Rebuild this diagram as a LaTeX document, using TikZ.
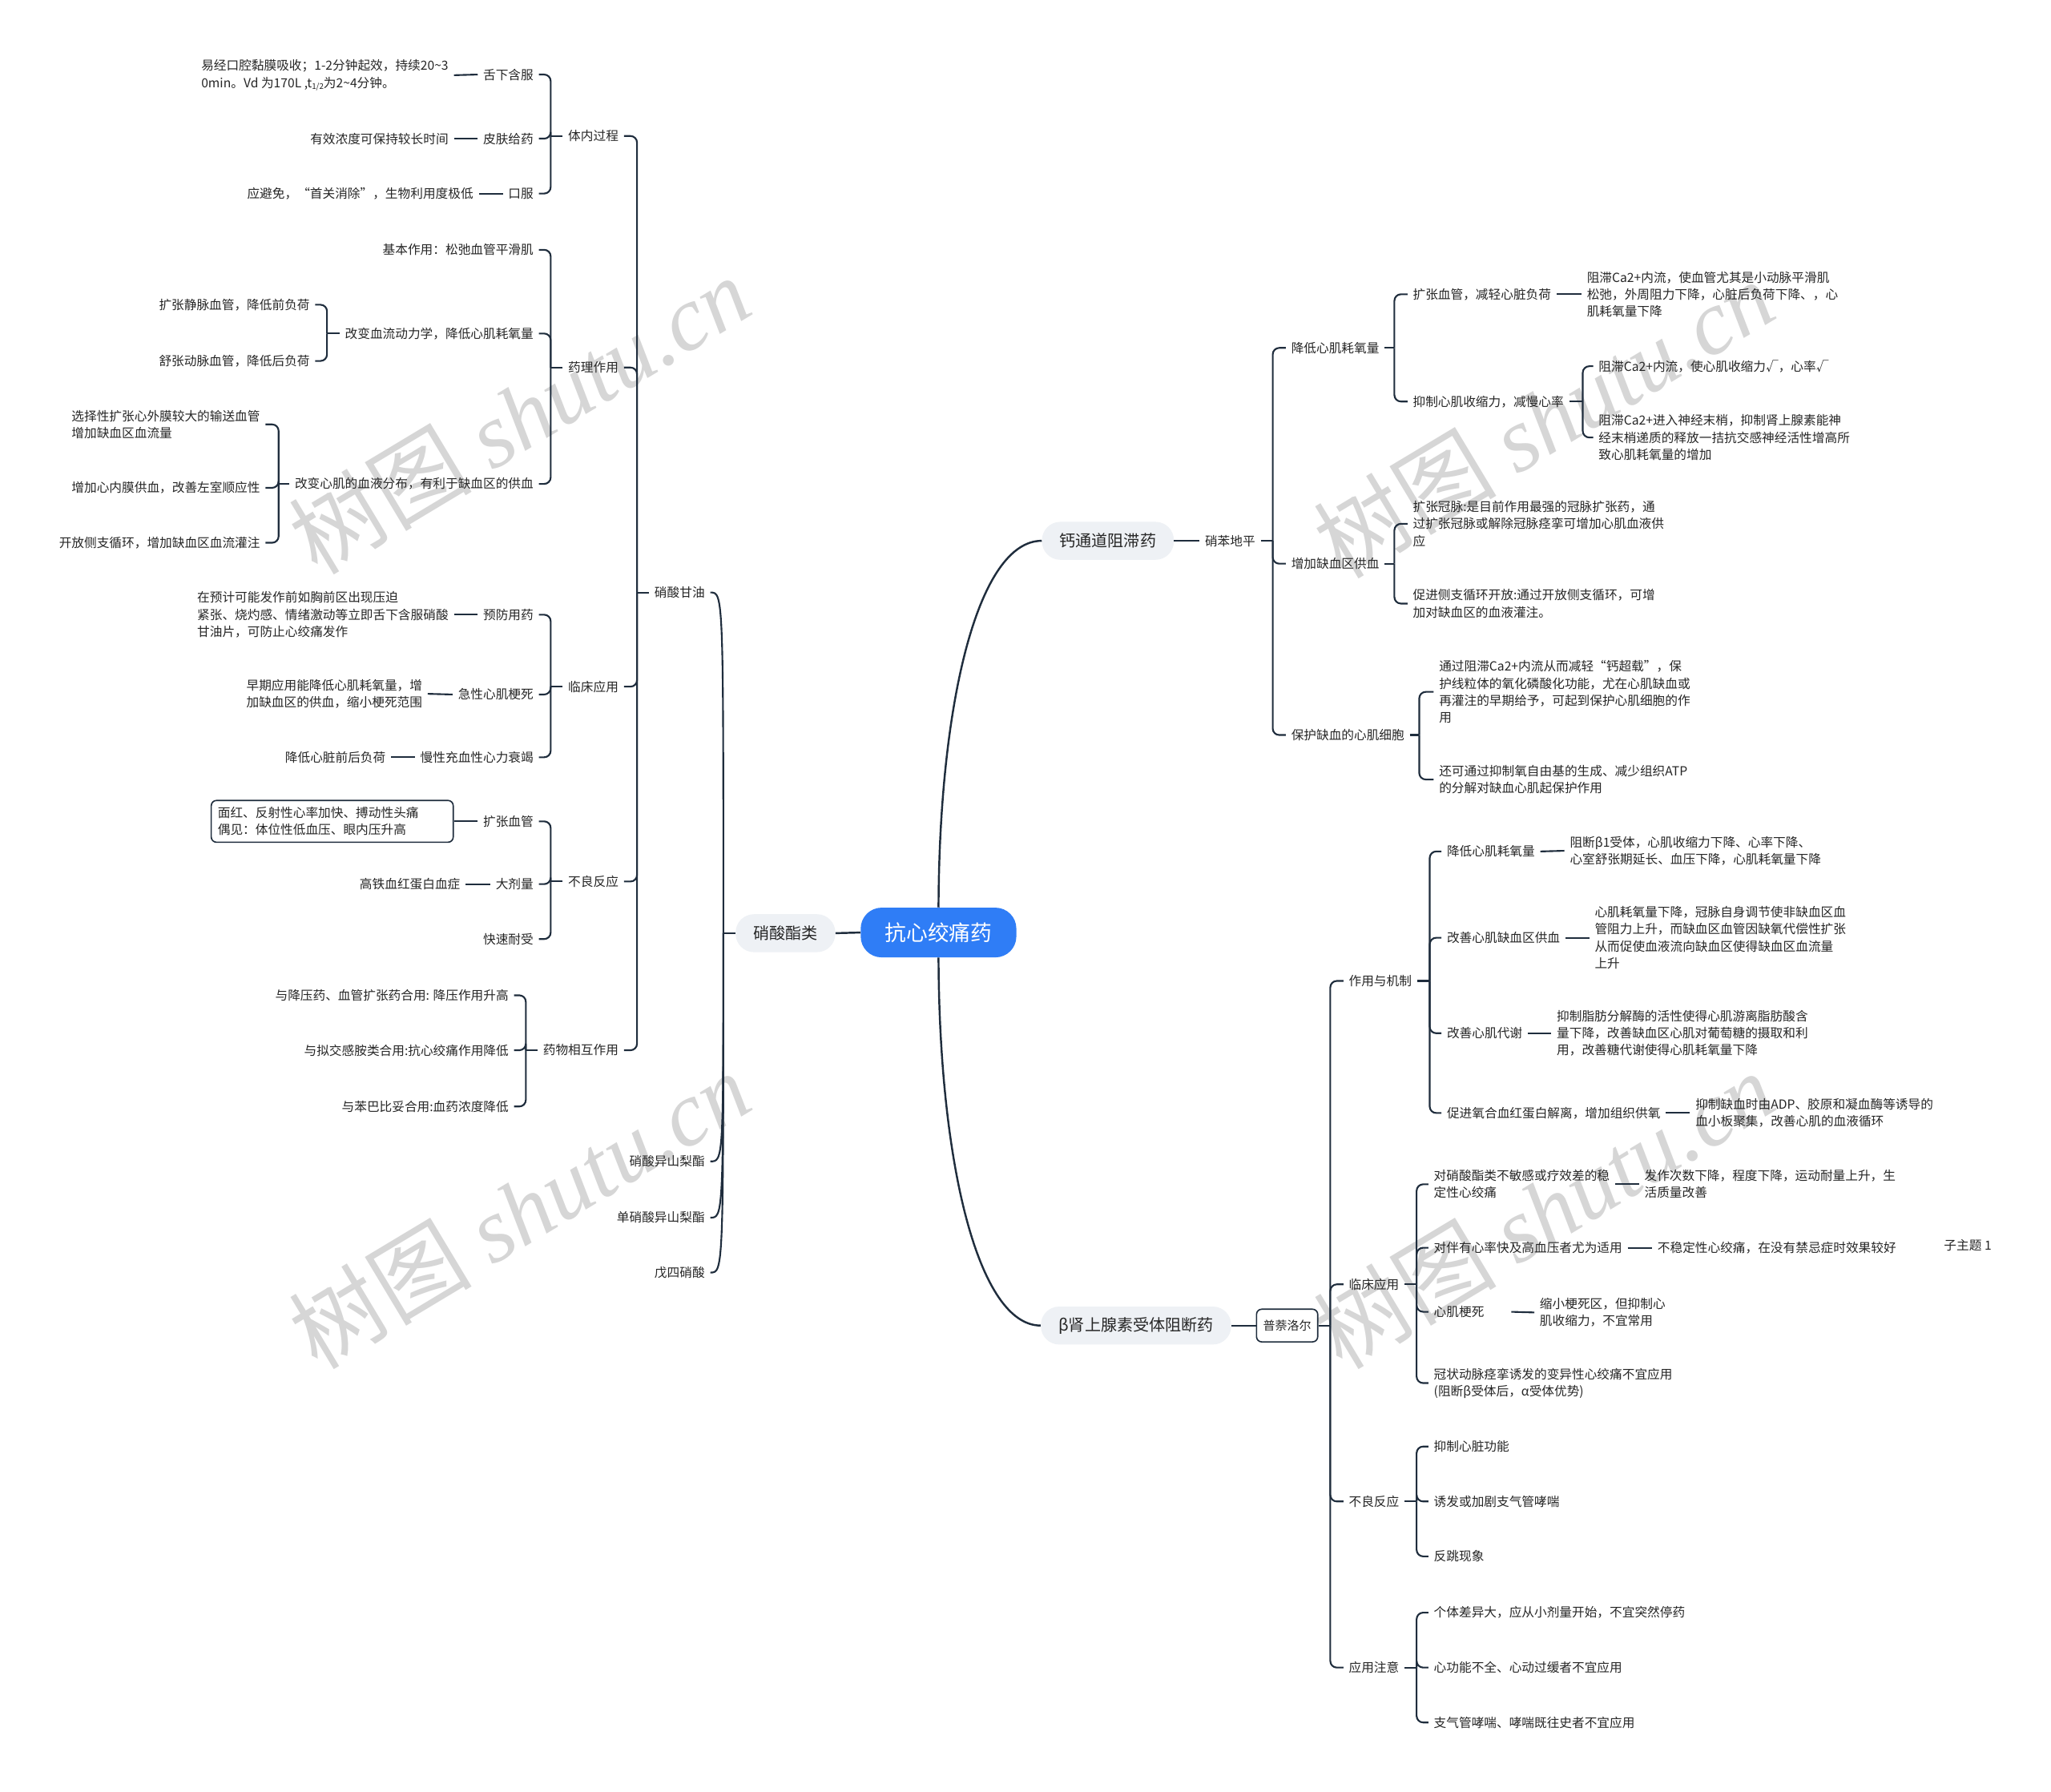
\documentclass[tikz,border=0pt]{standalone}
\usepackage{fontspec}
\setmainfont{Noto Sans CJK SC}
\newfontfamily\wmserif{Liberation Serif}
\definecolor{linec}{HTML}{1F2D3D}
\definecolor{txtc}{HTML}{262626}
\definecolor{rootc}{HTML}{2F7DF6}
\definecolor{lonec}{HTML}{EEF1F5}
\definecolor{wmc}{HTML}{D6D6D6}
\newcommand{\half}{\raisebox{-0.25ex}{\fontsize{6}{6}\selectfont 1/2}}
\tikzset{
 txt/.style={font=\fontsize{9.6}{13}\selectfont, text=txtc, inner xsep=4pt, inner ysep=1pt, align=left},
 rt/.style={txt, anchor=west},
 lt/.style={txt, anchor=east},
 conn/.style={draw=linec, line width=1.3pt, rounded corners=5pt},
 mainc/.style={draw=linec, line width=1.5pt},
 rootn/.style={fill=rootc, text=white, rounded corners=16pt, minimum height=38pt, inner xsep=18.5pt, font=\fontsize{16.4}{18}\selectfont},
 lone/.style={fill=lonec, text=txtc, rounded corners=14pt, minimum height=29pt, inner xsep=13.5pt, font=\fontsize{12.3}{14}\selectfont},
 wm/.style={text=wmc, rotate=31, font=\fontsize{70}{70}\selectfont},
}
\begin{document}
\begin{tikzpicture}[x=1pt,y=-1pt]
\fill[white] (0,0) rectangle (1568,1370);
\useasboundingbox (0,0) rectangle (1568,1370);
% watermarks
\node[wm] (w1) at (397,317) {树图 {\wmserif\itshape shutu.cn}};
\node[wm] (w2) at (397,925) {树图 {\wmserif\itshape shutu.cn}};
\node[wm] (w3) at (1180,320) {树图 {\wmserif\itshape shutu.cn}};
\node[wm] (w4) at (1180,925) {树图 {\wmserif\itshape shutu.cn}};

% root and level 1
\node[rootn] (root) at (717.5,713) {抗心绞痛药};
\node[lone] (nitr) at (600.5,713.5) {硝酸酯类};
\node[lone] (ccb) at (847,413.5) {钙通道阻滞药};
\node[lone] (beta) at (868.5,1013.5) {β肾上腺素受体阻断药};
\draw[mainc] (root.west) -- (nitr.east);
\draw[mainc] (root.north) .. controls (718,536) and (748,413.5) .. (ccb.west);
\draw[mainc] (root.south) .. controls (718,890) and (748,1013.5) .. (beta.west);

% ===== 硝酸酯类 =====
\coordinate (kN) at (553,713.5);
\node[lt] (ngly) at (543,453) {硝酸甘油};
\node[lt] (iso) at (543,888) {硝酸异山梨酯};
\node[lt] (mono) at (543,931) {单硝酸异山梨酯};
\node[lt] (pent) at (543,973) {戊四硝酸};
\draw[conn] (nitr.west) -- (kN);
\draw[conn] (kN) .. controls (553,453) .. (ngly.east);
\draw[conn] (kN) .. controls (553,888) .. (iso.east);
\draw[conn] (kN) .. controls (553,931) .. (mono.east);
\draw[conn] (kN) .. controls (553,973) .. (pent.east);

% 硝酸甘油 children
\coordinate (kG) at (487,453);
\node[lt] (tinei) at (477,104) {体内过程};
\node[lt] (yaoli) at (477,281) {药理作用};
\node[lt] (linc) at (477,525) {临床应用};
\node[lt] (bul) at (477,674) {不良反应};
\node[lt] (xhu) at (477,803) {药物相互作用};
\draw[conn] (ngly.west) -- (kG);
\foreach \c in {tinei,yaoli,linc,bul,xhu} \draw[conn] (kG) |- (\c.east);

% 体内过程
\coordinate (kT) at (421,104);
\node[lt] (sxhf) at (412,57) {舌下含服};
\node[lt] (pfgy) at (412,106) {皮肤给药};
\node[lt] (kfu) at (412,148) {口服};
\draw[conn] (tinei.west) -- (kT);
\foreach \c in {sxhf,pfgy,kfu} \draw[conn] (kT) |- (\c.east);
\node[lt] (sxhfL) at (347,57.5) {易经口腔黏膜吸收；1-2分钟起效，持续20\textasciitilde3\\0min。Vd 为170L ,t\half 为2\textasciitilde4分钟。};
\node[lt] (pfgyL) at (347,106) {有效浓度可保持较长时间};
\node[lt] (kfuL) at (366,148) {应避免，“首关消除”，生物利用度极低};
\draw[conn] (sxhf.west) -- (sxhfL.east);
\draw[conn] (pfgy.west) -- (pfgyL.east);
\draw[conn] (kfu.west) -- (kfuL.east);

% 药理作用
\coordinate (kY) at (421,281);
\node[lt] (jbzy) at (412,191) {基本作用：松弛血管平滑肌};
\node[lt] (xlz) at (412,255) {改变血流动力学，降低心肌耗氧量};
\node[lt] (fbu) at (412,370) {改变心肌的血液分布，有利于缺血区的供血};
\draw[conn] (yaoli.west) -- (kY);
\foreach \c in {jbzy,xlz,fbu} \draw[conn] (kY) |- (\c.east);
\coordinate (kX) at (250,255);
\node[lt] (jmx) at (241,233) {扩张静脉血管，降低前负荷};
\node[lt] (dmx) at (241,276) {舒张动脉血管，降低后负荷};
\draw[conn] (xlz.west) -- (kX);
\foreach \c in {jmx,dmx} \draw[conn] (kX) |- (\c.east);
\coordinate (kF) at (213,370);
\node[lt] (xzx) at (203,324.5) {选择性扩张心外膜较大的输送血管\\增加缺血区血流量};
\node[lt] (nmx) at (203,373) {增加心内膜供血，改善左室顺应性};
\node[lt] (cfx) at (203,415) {开放侧支循环，增加缺血区血流灌注};
\draw[conn] (fbu.west) -- (kF);
\foreach \c in {xzx,nmx,cfx} \draw[conn] (kF) |- (\c.east);

% 临床应用
\coordinate (kL) at (421,525);
\node[lt] (yfy) at (412,470) {预防用药};
\node[lt] (jxg) at (412,531) {急性心肌梗死};
\node[lt] (mxs) at (412,579) {慢性充血性心力衰竭};
\draw[conn] (linc.west) -- (kL);
\foreach \c in {yfy,jxg,mxs} \draw[conn] (kL) |- (\c.east);
\node[lt] (yfyL) at (347,470) {在预计可能发作前如胸前区出现压迫\\紧张、烧灼感、情绪激动等立即舌下含服硝酸\\甘油片，可防止心绞痛发作};
\node[lt] (jxgL) at (327,530.5) {早期应用能降低心肌耗氧量，增\\加缺血区的供血，缩小梗死范围};
\node[lt] (mxsL) at (299,579) {降低心脏前后负荷};
\draw[conn] (yfy.west) -- (yfyL.east);
\draw[conn] (jxg.west) -- (jxgL.east);
\draw[conn] (mxs.west) -- (mxsL.east);

% 不良反应
\coordinate (kB) at (421,674);
\node[lt] (kzg) at (412,628) {扩张血管};
\node[lt] (djl) at (412,676) {大剂量};
\node[lt] (ksn) at (412,718) {快速耐受};
\draw[conn] (bul.west) -- (kB);
\foreach \c in {kzg,djl,ksn} \draw[conn] (kB) |- (\c.east);
\node[lt, draw=linec, line width=1pt, rounded corners=4pt, text width=175pt, inner xsep=5pt, inner ysep=5pt] (kzgL) at (347,628) {面红、反射性心率加快、搏动性头痛\\偶见：体位性低血压、眼内压升高};
\node[lt] (djlL) at (356,676) {高铁血红蛋白血症};
\draw[conn] (kzg.west) -- (kzgL.east);
\draw[conn] (djl.west) -- (djlL.east);

% 药物相互作用
\coordinate (kH) at (402,803);
\node[lt] (hy1) at (393,761) {与降压药、血管扩张药合用: 降压作用升高};
\node[lt] (hy2) at (393,803) {与拟交感胺类合用:抗心绞痛作用降低};
\node[lt] (hy3) at (393,846) {与苯巴比妥合用:血药浓度降低};
\draw[conn] (xhu.west) -- (kH);
\foreach \c in {hy1,hy2,hy3} \draw[conn] (kH) |- (\c.east);

% ===== 钙通道阻滞药 =====
\node[rt] (nif) at (917,413.5) {硝苯地平};
\draw[conn] (ccb.east) -- (nif.west);
\coordinate (kC) at (973,413.5);
\node[rt] (jdh) at (983,266) {降低心肌耗氧量};
\node[rt] (zjg) at (983,431) {增加缺血区供血};
\node[rt] (bhx) at (983,562) {保护缺血的心肌细胞};
\draw[conn] (nif.east) -- (kC);
\foreach \c in {jdh,zjg,bhx} \draw[conn] (kC) |- (\c.west);

\coordinate (kJ) at (1066,266);
\node[rt] (kzxg) at (1076,225) {扩张血管，减轻心脏负荷};
\node[rt] (yzx) at (1076,307) {抑制心肌收缩力，减慢心率};
\draw[conn] (jdh.east) -- (kJ);
\foreach \c in {kzxg,yzx} \draw[conn] (kJ) |- (\c.west);
\node[rt] (kzxgL) at (1209,225) {阻滞Ca2+内流，使血管尤其是小动脉平滑肌\\松弛，外周阻力下降，心脏后负荷下降、，心\\肌耗氧量下降};
\draw[conn] (kzxg.east) -- (kzxgL.west);
\coordinate (kYz) at (1210,307);
\node[rt] (yz1) at (1218,280) {阻滞Ca2+内流，使心肌收缩力√，心率√};
\node[rt] (yz2) at (1218,334.5) {阻滞Ca2+进入神经末梢，抑制肾上腺素能神\\经末梢递质的释放一拮抗交感神经活性增高所\\致心肌耗氧量的增加};
\draw[conn] (yzx.east) -- (kYz);
\foreach \c in {yz1,yz2} \draw[conn] (kYz) |- (\c.west);

\coordinate (kZ) at (1066,431);
\node[rt] (zj1) at (1076,400.5) {扩张冠脉:是目前作用最强的冠脉扩张药，通\\过扩张冠脉或解除冠脉痉挛可增加心肌血液供\\应};
\node[rt] (zj2) at (1076,461.5) {促进侧支循环开放:通过开放侧支循环，可增\\加对缺血区的血液灌注。};
\draw[conn] (zjg.east) -- (kZ);
\foreach \c in {zj1,zj2} \draw[conn] (kZ) |- (\c.west);

\coordinate (kBh) at (1085,562);
\node[rt] (bh1) at (1096,529) {通过阻滞Ca2+内流从而减轻“钙超载”，保\\护线粒体的氧化磷酸化功能，尤在心肌缺血或\\再灌注的早期给予，可起到保护心肌细胞的作\\用};
\node[rt] (bh2) at (1096,596) {还可通过抑制氧自由基的生成、减少组织ATP\\的分解对缺血心肌起保护作用};
\draw[conn] (bhx.east) -- (kBh);
\foreach \c in {bh1,bh2} \draw[conn] (kBh) |- (\c.west);

% ===== β =====
\node[draw=linec, line width=1pt, fill=white, rounded corners=4pt, text=txtc, font=\fontsize{9.2}{11}\selectfont, inner xsep=5pt, minimum height=25pt] (prop) at (984,1013.5) {普萘洛尔};
\draw[conn] (beta.east) -- (prop.west);
\coordinate (kP) at (1017,1013.5);
\node[rt] (zyj) at (1027,750) {作用与机制};
\node[rt] (lcy) at (1027,982) {临床应用};
\node[rt] (blf) at (1027,1148) {不良反应};
\node[rt] (yyz) at (1027,1275) {应用注意};
\draw[conn] (prop.east) -- (kP);
\foreach \c in {zyj,lcy,blf,yyz} \draw[conn] (kP) |- (\c.west);

% 作用与机制
\coordinate (kZy) at (1093,750);
\node[rt] (jd2) at (1102,651) {降低心肌耗氧量};
\node[rt] (gsx) at (1102,717) {改善心肌缺血区供血};
\node[rt] (gdx) at (1102,790) {改善心肌代谢};
\node[rt] (cjx) at (1102,851) {促进氧合血红蛋白解离，增加组织供氧};
\draw[conn] (zyj.east) -- (kZy);
\foreach \c in {jd2,gsx,gdx,cjx} \draw[conn] (kZy) |- (\c.west);
\node[rt] (jd2L) at (1196,650.5) {阻断β1受体，心肌收缩力下降、心率下降、\\心室舒张期延长、血压下降，心肌耗氧量下降};
\node[rt] (gsxL) at (1215,717) {心肌耗氧量下降，冠脉自身调节使非缺血区血\\管阻力上升，而缺血区血管因缺氧代偿性扩张\\从而促使血液流向缺血区使得缺血区血流量\\上升};
\node[rt] (gdxL) at (1186,790) {抑制脂肪分解酶的活性使得心肌游离脂肪酸含\\量下降，改善缺血区心肌对葡萄糖的摄取和利\\用，改善糖代谢使得心肌耗氧量下降};
\node[rt] (cjxL) at (1292,851) {抑制缺血时由ADP、胶原和凝血酶等诱导的\\血小板聚集，改善心肌的血液循环};
\draw[conn] (jd2.east) -- (jd2L.west);
\draw[conn] (gsx.east) -- (gsxL.west);
\draw[conn] (gdx.east) -- (gdxL.west);
\draw[conn] (cjx.east) -- (cjxL.west);

% 临床应用
\coordinate (kLc) at (1083,982);
\node[rt] (lc1) at (1092,905.5) {对硝酸酯类不敏感或疗效差的稳\\定性心绞痛};
\node[rt] (lc2) at (1092,954) {对伴有心率快及高血压者尤为适用};
\node[rt, text width=55pt] (lc3) at (1092,1003) {心肌梗死};
\node[rt] (lc4) at (1092,1057.5) {冠状动脉痉挛诱发的变异性心绞痛不宜应用\\(阻断β受体后，α受体优势)};
\draw[conn] (lcy.east) -- (kLc);
\foreach \c in {lc1,lc2,lc3,lc4} \draw[conn] (kLc) |- (\c.west);
\node[rt] (lc1L) at (1253,905.5) {发作次数下降，程度下降，运动耐量上升，生\\活质量改善};
\node[rt] (lc2L) at (1263,954) {不稳定性心绞痛，在没有禁忌症时效果较好};
\node[rt] (lc3L) at (1173,1003.5) {缩小梗死区，但抑制心\\肌收缩力，不宜常用};
\draw[conn] (lc1.east) -- (lc1L.west);
\draw[conn] (lc2.east) -- (lc2L.west);
\draw[conn] (lc3.east) -- (lc3L.west);
\node[rt] (sub1) at (1482,952) {子主题 1};

% 不良反应
\coordinate (kBl) at (1083,1148);
\node[rt] (bl1) at (1092,1106) {抑制心脏功能};
\node[rt] (bl2) at (1092,1148) {诱发或加剧支气管哮喘};
\node[rt] (bl3) at (1092,1190) {反跳现象};
\draw[conn] (blf.east) -- (kBl);
\foreach \c in {bl1,bl2,bl3} \draw[conn] (kBl) |- (\c.west);

% 应用注意
\coordinate (kYy) at (1083,1275);
\node[rt] (yy1) at (1092,1233) {个体差异大，应从小剂量开始，不宜突然停药};
\node[rt] (yy2) at (1092,1275) {心功能不全、心动过缓者不宜应用};
\node[rt] (yy3) at (1092,1317) {支气管哮喘、哮喘既往史者不宜应用};
\draw[conn] (yyz.east) -- (kYy);
\foreach \c in {yy1,yy2,yy3} \draw[conn] (kYy) |- (\c.west);
\end{tikzpicture}
\end{document}
